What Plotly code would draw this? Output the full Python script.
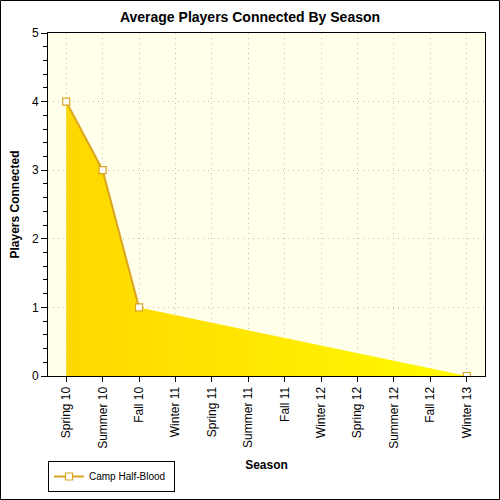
import plotly.graph_objects as go

seasons = ["Spring 10", "Summer 10", "Fall 10", "Winter 11", "Spring 11", "Summer 11",
           "Fall 11", "Winter 12", "Spring 12", "Summer 12", "Fall 12", "Winter 13"]
players = [4, 3, 1, None, None, None, None, None, None, None, None, 0]
series_name = "Camp Half-Blood"

L, R, T, B = 48, 15, 33, 124
W = H = 500
pw, ph = W - L - R, H - T - B

fig = go.Figure()
# filled area (connected over gaps)
fig.add_trace(go.Scatter(
    x=seasons, y=players, mode="lines", connectgaps=True, fill="tozeroy",
    line=dict(width=0, color="rgba(0,0,0,0)"),
    fillgradient=dict(type="horizontal", colorscale=[[0, "#FFD700"], [1, "#FFFA00"]]),
    showlegend=False, hoverinfo="skip"))
# line + markers (not connected over gaps)
fig.add_trace(go.Scatter(
    x=seasons, y=players, mode="lines+markers", connectgaps=False, name=series_name,
    line=dict(width=2, color="#DAA520"),
    marker=dict(symbol="square", size=7, color="white", line=dict(width=1.2, color="#DAA520"))))

font = "Liberation Sans, Arial, sans-serif"
dots = "1px,4px"
fig.update_layout(
    width=W, height=H,
    margin=dict(l=L, r=R, t=T, b=B, autoexpand=False),
    paper_bgcolor="white", plot_bgcolor="#FFFFEA",
    font=dict(family=font, size=12, color="#000"),
    title=dict(text="<b>Average Players Connected By Season</b>", x=0.5, xanchor="center",
               y=1 - 17 / H, yanchor="middle", font=dict(size=14, color="#000")),
    showlegend=True,
    legend=dict(x=0, xanchor="left", y=(T + ph - 492) / ph, yanchor="bottom",
                orientation="h", bordercolor="#000", borderwidth=1, bgcolor="white",
                font=dict(size=10), itemwidth=30, tracegroupgap=0,
                entrywidth=80),
    xaxis=dict(type="category", range=[-0.5, 11.5], tickangle=-90,
               showline=True, linecolor="#000", linewidth=1, mirror=True,
               ticks="outside", ticklen=5, tickcolor="#000",
               showgrid=True, gridcolor="#C0C0C0", griddash=dots, gridwidth=1,
               title=dict(text="<b>Season</b>", font=dict(size=12), standoff=12),
               tickfont=dict(size=12), zeroline=False, automargin=False),
    yaxis=dict(range=[0, 5], dtick=1, showline=True, linecolor="#000", linewidth=1, mirror=True,
               ticks="outside", ticklen=6, tickcolor="#000",
               minor=dict(dtick=0.2, ticks="outside", ticklen=4, tickcolor="#000", showgrid=False),
               showgrid=True, gridcolor="#C0C0C0", griddash=dots, gridwidth=1,
               title=dict(text="<b>Players Connected</b>", font=dict(size=12), standoff=9),
               tickfont=dict(size=12), zeroline=False, automargin=False),
)
# outer border around the whole picture
fig.add_shape(type="rect", xref="paper", yref="paper",
              x0=(0.5 - L) / pw, x1=(W - 0.5 - L) / pw,
              y0=-(B - 0.5) / ph, y1=(ph + T - 0.5) / ph,
              line=dict(color="#000", width=1), layer="above")
fig.write_html("out.html")
